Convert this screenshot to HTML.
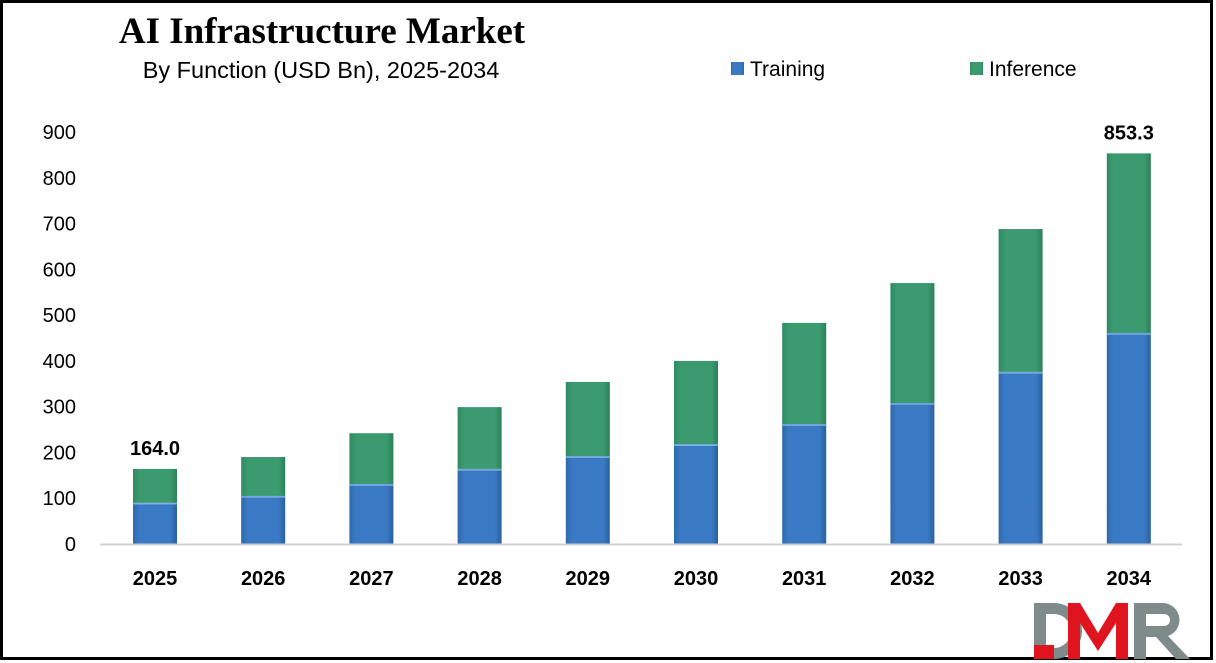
<!DOCTYPE html>
<html><head><meta charset="utf-8"><style>
html,body{margin:0;padding:0;background:#fff}
#wrap{position:relative;width:1216px;height:663px;overflow:hidden}
</style></head><body>
<div id="wrap">
<svg id="chart" width="1216" height="663" xmlns="http://www.w3.org/2000/svg">
<defs>
<linearGradient id="gb" x1="0" x2="1" y1="0" y2="0"><stop offset="0" stop-color="#2f69ad"/><stop offset="0.15" stop-color="#3a7ac4"/><stop offset="0.85" stop-color="#3a7ac4"/><stop offset="1" stop-color="#2a5f9e"/></linearGradient>
<linearGradient id="gg" x1="0" x2="1" y1="0" y2="0"><stop offset="0" stop-color="#2f8a62"/><stop offset="0.15" stop-color="#3b9a70"/><stop offset="0.85" stop-color="#3b9a70"/><stop offset="1" stop-color="#2c8058"/></linearGradient>
</defs>
<rect x="1.5" y="1.5" width="1210" height="657" fill="#fff" stroke="#000" stroke-width="3"/>
<text x="322" y="43" text-anchor="middle" font-family="Liberation Serif, serif" font-weight="bold" font-size="37">AI Infrastructure Market</text>
<text x="321" y="78" text-anchor="middle" font-family="Liberation Sans, sans-serif" font-size="23.5">By Function (USD Bn), 2025-2034</text>
<g>
<rect x="731" y="62" width="13" height="13" fill="url(#gb)"/>
<text x="750" y="76" font-family="Liberation Sans, sans-serif" font-size="21">Training</text>
<rect x="970" y="62" width="13" height="13" fill="url(#gg)"/>
<text x="989" y="76" font-family="Liberation Sans, sans-serif" font-size="21">Inference</text>
</g>
<g id="yaxis"></g>
<g id="bars"></g>
<line x1="100" y1="544.5" x2="1182" y2="544.5" stroke="#d0d0d0" stroke-width="2"/>
<g id="xaxis"></g>
<g>
<path d="M1034 603 h20 a28 28 0 0 1 0 56 h-20 z M1046 614 v34 h8 a17 17 0 0 0 0 -34 z" fill="#7f8a8a" fill-rule="evenodd"/>
<path d="M1034 659 h20 v-14 h-20 z" fill="#e0141e"/>
<path d="M1068 659 v-56 h12 l18 30 l18 -30 h12 v56 h-12 v-36 l-18 28 l-18 -28 v36 z" fill="#e0141e"/>
<path d="M1134 603 h30 a17 17 0 0 1 4 33 l22 23 h-14 l-20 -22 h-10 v22 h-12 z M1146 614 v12 h18 a6 6 0 0 0 0 -12 z" fill="#7f8a8a" fill-rule="evenodd"/>
</g>
</svg>
</div>
<script>
const years = ["2025","2026","2027","2028","2029","2030","2031","2032","2033","2034"];
const training = [90,105,131,164,192,218,262,308,376,461];
const inference = [74,85,111,135,162,182,221,262,312,392.3];
const yTicks = [0,100,200,300,400,500,600,700,800,900];
const totalLabels = {"2025":"164.0","2034":"853.3"};
const NS="http://www.w3.org/2000/svg";
const y0=544, pxPer=412/900, x0=155, step=108.2, bw=44;
const yS=v=>y0-v*pxPer, xS=i=>x0+i*step;
function mk(t,a,p){const e=document.createElementNS(NS,t);for(const k in a)e.setAttribute(k,a[k]);p.appendChild(e);return e;}
const ya=document.getElementById('yaxis'), bars=document.getElementById('bars'), xa=document.getElementById('xaxis');
yTicks.forEach(v=>{const t=mk('text',{x:76,y:yS(v)+7,'text-anchor':'end','font-family':'Liberation Sans, sans-serif','font-size':20},ya);t.textContent=v;

});
years.forEach((yr,i)=>{const cx=xS(i);
const b=mk('rect',{x:cx-bw/2,y:yS(training[i]),width:bw,height:training[i]*pxPer,fill:'url(#gb)'},bars);


const tot=training[i]+inference[i];
const g=mk('rect',{x:cx-bw/2,y:yS(tot),width:bw,height:inference[i]*pxPer,fill:'url(#gg)'},bars);


mk('line',{x1:cx-bw/2,x2:cx+bw/2,y1:yS(training[i])+1,y2:yS(training[i])+1,stroke:'#7fb0e6','stroke-width':1.5},bars);
const xl=mk('text',{x:cx,y:585,'text-anchor':'middle','font-family':'Liberation Sans, sans-serif','font-weight':'bold','font-size':20},xa);xl.textContent=yr;


if(totalLabels[yr]){const l=mk('text',{x:cx,y:yS(tot)-14,'text-anchor':'middle','font-family':'Liberation Sans, sans-serif','font-weight':'bold','font-size':20},bars);l.textContent=totalLabels[yr];

}
});
</script>
</body></html>
